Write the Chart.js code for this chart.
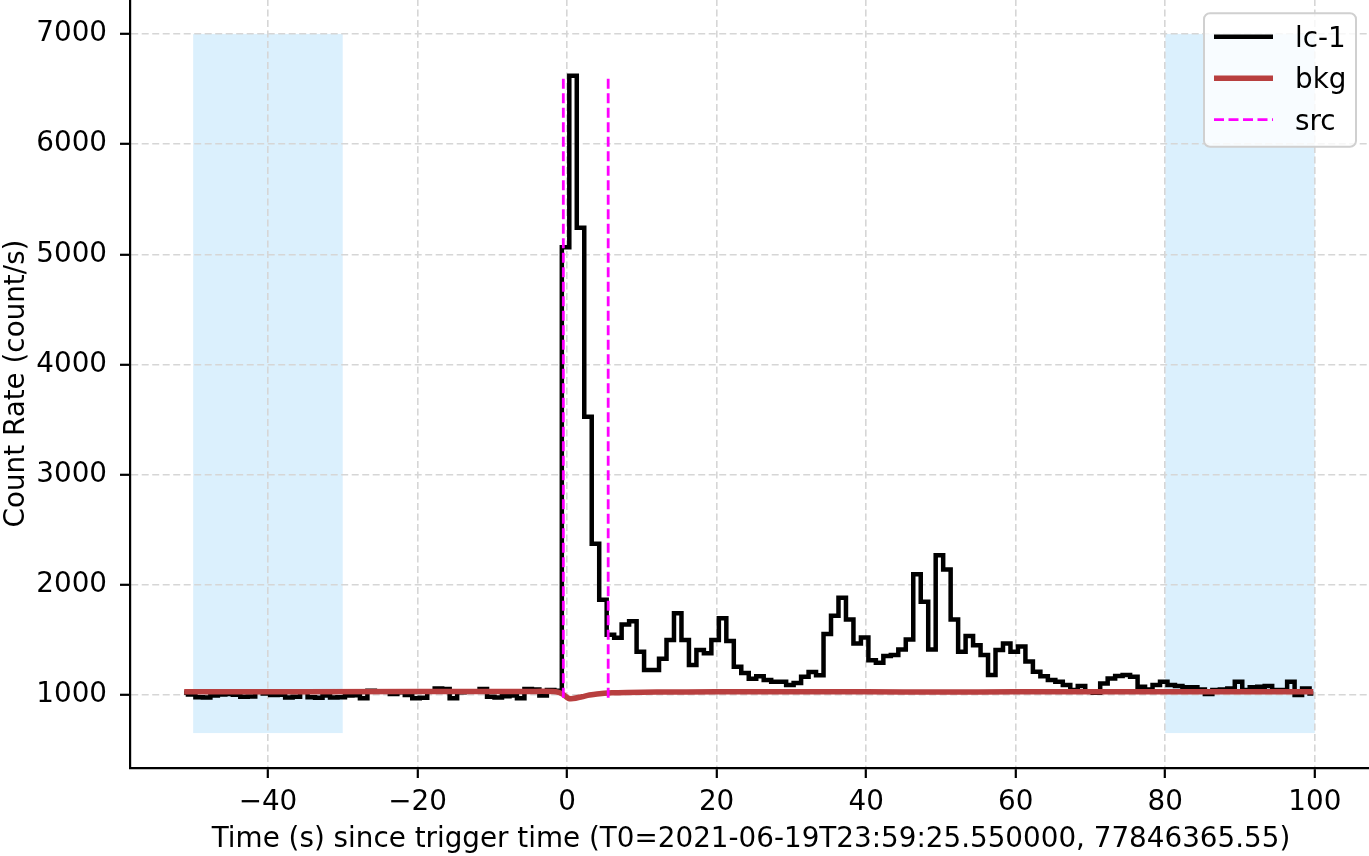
<!DOCTYPE html>
<html>
<head>
<meta charset="utf-8">
<script src="https://cdn.jsdelivr.net/npm/chart.js@4.4.0/dist/chart.umd.min.js"></script>
<style>
html, body { margin: 0; padding: 0; background: #fff; overflow: hidden; }
#wrap { position: relative; width: 1369px; height: 856px; overflow: hidden; }
#lc { position: absolute; left: 0; top: -10px; }
</style>
</head>
<body>
<div id="wrap"><canvas id="lc" width="1380" height="866"></canvas></div>
<script>
// bin centres (s since T0), 1 s bins
const binTime = [
    -51.2, -50.2, -49.2, -48.2, -47.2, -46.2, -45.2, -44.2, -43.2, -42.2,
    -41.2, -40.2, -39.2, -38.2, -37.2, -36.2, -35.2, -34.2, -33.2, -32.2,
    -31.2, -30.2, -29.2, -28.2, -27.2, -26.2, -25.2, -24.2, -23.2, -22.2,
    -21.2, -20.2, -19.2, -18.2, -17.2, -16.2, -15.2, -14.2, -13.2, -12.2,
    -11.2, -10.2, -9.2, -8.2, -7.2, -6.2, -5.2, -4.2, -3.2, -2.2,
    -1.2, -0.2, 0.8, 1.8, 2.8, 3.8, 4.8, 5.8, 6.8, 7.8,
    8.8, 9.8, 10.8, 11.8, 12.8, 13.8, 14.8, 15.8, 16.8, 17.8,
    18.8, 19.8, 20.8, 21.8, 22.8, 23.8, 24.8, 25.8, 26.8, 27.8,
    28.8, 29.8, 30.8, 31.8, 32.8, 33.8, 34.8, 35.8, 36.8, 37.8,
    38.8, 39.8, 40.8, 41.8, 42.8, 43.8, 44.8, 45.8, 46.8, 47.8,
    48.8, 49.8, 50.8, 51.8, 52.8, 53.8, 54.8, 55.8, 56.8, 57.8,
    58.8, 59.8, 60.8, 61.8, 62.8, 63.8, 64.8, 65.8, 66.8, 67.8,
    68.8, 69.8, 70.8, 71.8, 72.8, 73.8, 74.8, 75.8, 76.8, 77.8,
    78.8, 79.8, 80.8, 81.8, 82.8, 83.8, 84.8, 85.8, 86.8, 87.8,
    88.8, 89.8, 90.8, 91.8, 92.8, 93.8, 94.8, 95.8, 96.8, 97.8,
    98.8, 99.8
];
// lc-1 count rate (count/s)
const lcRate = [
    1020, 1005, 980, 978, 995, 1005, 1010, 1003, 985, 988,
    1030, 1015, 1000, 1002, 978, 985, 1035, 980, 975, 995,
    978, 980, 995, 998, 970, 1040, 1035, 1030, 1010, 1025,
    1000, 972, 975, 1030, 1060, 1055, 970, 1025, 1030, 1035,
    1055, 985, 978, 990, 995, 972, 1055, 1050, 995, 1045,
    1040, 5065, 6621, 5241, 3525, 2374, 1864, 1548, 1520, 1640,
    1670, 1393, 1227, 1227, 1330, 1500, 1743, 1500, 1272, 1408,
    1380, 1500, 1698, 1490, 1257, 1200, 1148, 1170, 1136, 1121,
    1121, 1091, 1110, 1165, 1210, 1180, 1555, 1720, 1882, 1686,
    1468, 1523, 1317, 1293, 1354, 1363, 1414, 1505, 2097, 1846,
    1414, 2269, 2139, 1686, 1393, 1535, 1453, 1363, 1181, 1408,
    1468, 1393, 1440, 1305, 1211, 1170, 1136, 1121, 1091, 1045,
    1082, 1030, 1021, 1106, 1151, 1172, 1181, 1166, 1076, 1051,
    1091, 1121, 1091, 1082, 1070, 1070, 1051, 1009, 1045, 1051,
    1060, 1121, 1045, 1070, 1076, 1082, 1045, 1045, 1121, 1000,
    1060, 1015
];
// background fit
const bkgTime = [-51.2, -20, -5, -1.5, -0.6, 0.2, 0.8, 2, 3, 4, 6, 8, 12, 20, 30, 40, 50, 60, 70, 80, 90, 99.8];
const bkgRate = [1030, 1032, 1033, 1030, 1008, 970, 968, 985, 1000, 1010, 1020, 1024, 1027, 1030, 1030, 1029, 1028, 1029, 1030, 1030, 1030, 1030];
// source interval
const srcTime = [-0.5, 5.5];
const srcRange = [975, 6620];
// background intervals (shaded)
const bkgIntervals = [[-50, -30], [80, 100]];
const bandRange = [655, 7000];

const xTicks = [-40, -20, 0, 20, 40, 60, 80, 100];
const yTicks = [1000, 2000, 3000, 4000, 5000, 6000, 7000];
const xLimits = [-58.45, 107.65];
const yLimits = [338, 7317];

const xLabel = 'Time (s) since trigger time (T0=2021-06-19T23:59:25.550000, 77846365.55)';
const yLabel = 'Count Rate (count/s)';

const fam = 'DejaVu Sans';
const fontSize = 27.8;
Chart.defaults.font.family = fam;
Chart.defaults.color = '#000';

const srcPoints = [
    { x: srcTime[0], y: srcRange[0] }, { x: srcTime[0], y: srcRange[1] },
    { x: (srcTime[0] + srcTime[1]) / 2, y: null },
    { x: srcTime[1], y: srcRange[0] }, { x: srcTime[1], y: srcRange[1] }
];

const bandPlugin = {
    id: 'bands',
    beforeDraw(chart) {
        const { ctx, scales: { x, y } } = chart;
        ctx.save();
        ctx.fillStyle = 'rgba(135, 206, 250, 0.3)';
        bkgIntervals.forEach(([a, b]) => {
            const x0 = x.getPixelForValue(a), x1 = x.getPixelForValue(b);
            const y0 = y.getPixelForValue(bandRange[1]), y1 = y.getPixelForValue(bandRange[0]);
            ctx.fillRect(x0, y0, x1 - x0, y1 - y0);
        });
        ctx.restore();
    }
};

// matplotlib-like legend box, upper right
const legendPlugin = {
    id: 'boxLegend',
    afterDraw(chart) {
        const ctx = chart.ctx;
        const left = 1204, top = 23.3, w = 152, h = 133.4;
        ctx.save();
        ctx.beginPath();
        ctx.roundRect(left, top, w, h, 6);
        ctx.fillStyle = 'rgba(255, 255, 255, 0.8)';
        ctx.fill();
        ctx.lineWidth = 2;
        ctx.strokeStyle = '#d0d0d0';
        ctx.stroke();
        ctx.font = fontSize + 'px "' + fam + '"';
        ctx.textBaseline = 'alphabetic';
        chart.data.datasets.forEach((ds, i) => {
            const ly = top + 23.4 + i * 41.5;
            ctx.beginPath();
            ctx.setLineDash(ds.borderDash || []);
            ctx.lineWidth = ds.borderWidth;
            ctx.strokeStyle = ds.borderColor;
            ctx.moveTo(left + 10, ly);
            ctx.lineTo(left + 69, ly);
            ctx.stroke();
            ctx.setLineDash([]);
            ctx.fillStyle = '#000';
            ctx.fillText(ds.label, left + 91, ly + 10);
        });
        ctx.restore();
    }
};

const gridCommon = {
    color: '#d6d6d6',
    lineWidth: 1.6,
    tickLength: 10,
    tickColor: '#000',
    tickWidth: 2.2,
    tickBorderDash: []
};
const borderCommon = { display: true, color: '#000', width: 2.2, dash: [7, 3.5] };

new Chart(document.getElementById('lc'), {
    type: 'line',
    data: {
        datasets: [
            {
                label: 'lc-1',
                data: binTime.map((t, i) => ({ x: t, y: lcRate[i] })),
                stepped: 'middle',
                borderColor: '#000000',
                borderWidth: 4.5,
                pointRadius: 0,
                fill: false,
                order: 3
            },
            {
                label: 'bkg',
                data: bkgTime.map((t, i) => ({ x: t, y: bkgRate[i] })),
                borderColor: '#b83f3f',
                borderWidth: 5.5,
                tension: 0.3,
                pointRadius: 0,
                fill: false,
                order: 2
            },
            {
                label: 'src',
                data: srcPoints,
                borderColor: '#ff00ff',
                borderWidth: 2.8,
                borderDash: [10, 4.5],
                spanGaps: false,
                pointRadius: 0,
                fill: false,
                order: 1
            }
        ]
    },
    options: {
        responsive: false,
        animation: false,
        layout: { padding: { top: 9, right: 8, left: 0, bottom: 0 } },
        plugins: { legend: { display: false }, tooltip: { enabled: false } },
        scales: {
            x: {
                type: 'linear',
                min: xLimits[0],
                max: xLimits[1],
                afterBuildTicks: s => { s.ticks = xTicks.map(v => ({ value: v })); },
                afterFit: s => { s.height = 88; s.paddingLeft = 0; s.paddingRight = 0; },
                ticks: {
                    autoSkip: false,
                    maxRotation: 0,
                    padding: 8,
                    font: { size: fontSize },
                    callback: v => v < 0 ? '\u2212' + Math.abs(v) : String(v)
                },
                grid: gridCommon,
                border: borderCommon,
                title: { display: true, text: xLabel, font: { size: fontSize }, padding: 0 }
            },
            y: {
                type: 'linear',
                min: yLimits[0],
                max: yLimits[1],
                afterBuildTicks: s => { s.ticks = yTicks.map(v => ({ value: v })); },
                afterFit: s => { s.width = 130; s.paddingTop = 0; s.paddingBottom = 0; },
                ticks: { padding: 13, font: { size: fontSize }, callback: v => String(v) },
                grid: gridCommon,
                border: borderCommon,
                title: { display: true, text: yLabel, font: { size: fontSize }, padding: 0 }
            }
        }
    },
    plugins: [bandPlugin, legendPlugin]
});
</script>
</body>
</html>
